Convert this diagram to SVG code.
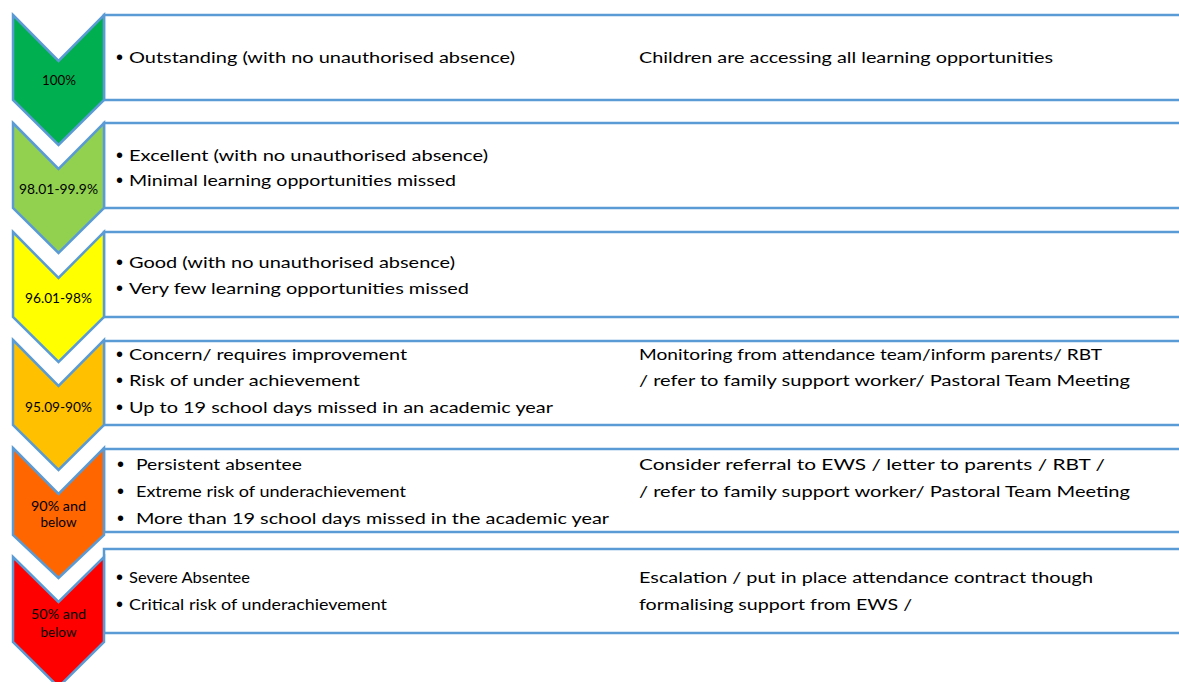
<svg xmlns="http://www.w3.org/2000/svg" width="1179" height="682" viewBox="0 0 1179 682">
<style>
.box{fill:#fff;stroke:#5B9BD5;stroke-width:2.5}
.chev{stroke:#5B9BD5;stroke-width:2.5;stroke-linejoin:miter}
.t{font-family:Lato,"Liberation Sans",sans-serif;font-size:16px;fill:#000}
.b{font-family:"Liberation Sans",sans-serif;font-size:20px;fill:#000}
.lab{font-family:Lato,"Liberation Sans",sans-serif;font-size:13.5px;fill:#000;text-anchor:middle}
</style>
<rect width="1179" height="682" fill="#fff"/>
<g id="row1">
<rect class="box" x="104" y="15" width="1090" height="85"/>
<polygon class="chev" fill="#00B050" points="13,15 58.5,61 104,15 104,100 58.5,145 13,100"/>
<text class="lab" x="59" y="85" textLength="34" lengthAdjust="spacingAndGlyphs">100%</text>
<text class="b" x="116" y="64">•</text>
<text class="t" x="129" y="63" textLength="386" lengthAdjust="spacingAndGlyphs">Outstanding (with no unauthorised absence)</text>
<text class="t" x="639" y="63" textLength="414" lengthAdjust="spacingAndGlyphs">Children are accessing all learning opportunities</text>
</g>
<g id="row2">
<rect class="box" x="104" y="123" width="1090" height="85"/>
<polygon class="chev" fill="#92D050" points="13,123 58.5,169 104,123 104,208 58.5,253 13,208"/>
<text class="lab" x="58.5" y="194" textLength="79" lengthAdjust="spacingAndGlyphs">98.01-99.9%</text>
<text class="b" x="116" y="162">•</text>
<text class="t" x="129" y="161" textLength="359" lengthAdjust="spacingAndGlyphs">Excellent (with no unauthorised absence)</text>
<text class="b" x="116" y="187">•</text>
<text class="t" x="129" y="186" textLength="327" lengthAdjust="spacingAndGlyphs">Minimal learning opportunities missed</text>
</g>
<g id="row3">
<rect class="box" x="104" y="232" width="1090" height="85"/>
<polygon class="chev" fill="#FFFF00" points="13,232 58.5,278 104,232 104,317 58.5,362 13,317"/>
<text class="lab" x="58.5" y="303" textLength="67" lengthAdjust="spacingAndGlyphs">96.01-98%</text>
<text class="b" x="116" y="269">•</text>
<text class="t" x="129" y="268" textLength="326" lengthAdjust="spacingAndGlyphs">Good (with no unauthorised absence)</text>
<text class="b" x="116" y="295">•</text>
<text class="t" x="129" y="294" textLength="340" lengthAdjust="spacingAndGlyphs">Very few learning opportunities missed</text>
</g>
<g id="row4">
<rect class="box" x="104" y="341" width="1090" height="84"/>
<polygon class="chev" fill="#FFC000" points="13,340 58.5,386 104,340 104,425 58.5,470 13,425"/>
<text class="lab" x="58.5" y="412" textLength="67" lengthAdjust="spacingAndGlyphs">95.09-90%</text>
<text class="b" x="116" y="361">•</text>
<text class="t" x="129" y="360" textLength="278" lengthAdjust="spacingAndGlyphs">Concern/ requires improvement</text>
<text class="b" x="116" y="387">•</text>
<text class="t" x="129" y="386" textLength="231" lengthAdjust="spacingAndGlyphs">Risk of under achievement</text>
<text class="b" x="116" y="414">•</text>
<text class="t" x="129" y="413" textLength="424" lengthAdjust="spacingAndGlyphs">Up to 19 school days missed in an academic year</text>
<text class="t" x="639" y="360" textLength="463" lengthAdjust="spacingAndGlyphs">Monitoring from attendance team/inform parents/ RBT</text>
<text class="t" x="639" y="386" textLength="491" lengthAdjust="spacingAndGlyphs">/ refer to family support worker/ Pastoral Team Meeting</text>
</g>
<g id="row5">
<rect class="box" x="104" y="449" width="1090" height="83"/>
<polygon class="chev" fill="#FF6600" points="13,448 58.5,494 104,448 104,535 58.5,578 13,535"/>
<text class="lab" x="58.5" y="511" textLength="55" lengthAdjust="spacingAndGlyphs">90% and</text>
<text class="lab" x="58.5" y="527">below</text>
<text class="b" x="117" y="471">•</text>
<text class="t" x="136" y="470" textLength="166" lengthAdjust="spacingAndGlyphs">Persistent absentee</text>
<text class="b" x="117" y="498">•</text>
<text class="t" x="136" y="497" textLength="270" lengthAdjust="spacingAndGlyphs">Extreme risk of underachievement</text>
<text class="b" x="117" y="525">•</text>
<text class="t" x="136" y="524" textLength="473" lengthAdjust="spacingAndGlyphs">More than 19 school days missed in the academic year</text>
<text class="t" x="639" y="470" textLength="466" lengthAdjust="spacingAndGlyphs">Consider referral to EWS / letter to parents / RBT /</text>
<text class="t" x="639" y="497" textLength="491" lengthAdjust="spacingAndGlyphs">/ refer to family support worker/ Pastoral Team Meeting</text>
</g>
<g id="row6">
<rect class="box" x="104" y="549" width="1090" height="84"/>
<polygon class="chev" fill="#FF0000" points="13,557 58.5,602 104,557 104,642 58.5,687 13,642"/>
<text class="lab" x="58.5" y="619" textLength="55" lengthAdjust="spacingAndGlyphs">50% and</text>
<text class="lab" x="58.5" y="637">below</text>
<text class="b" x="116" y="584">•</text>
<text class="t" x="129" y="583" textLength="121" lengthAdjust="spacingAndGlyphs">Severe Absentee</text>
<text class="b" x="116" y="611">•</text>
<text class="t" x="129" y="610" textLength="258" lengthAdjust="spacingAndGlyphs">Critical risk of underachievement</text>
<text class="t" x="639" y="583" textLength="454" lengthAdjust="spacingAndGlyphs">Escalation / put in place attendance contract though</text>
<text class="t" x="639" y="610" textLength="273" lengthAdjust="spacingAndGlyphs">formalising support from EWS /</text>
</g>
<g id="connectors"></g>
</svg>
